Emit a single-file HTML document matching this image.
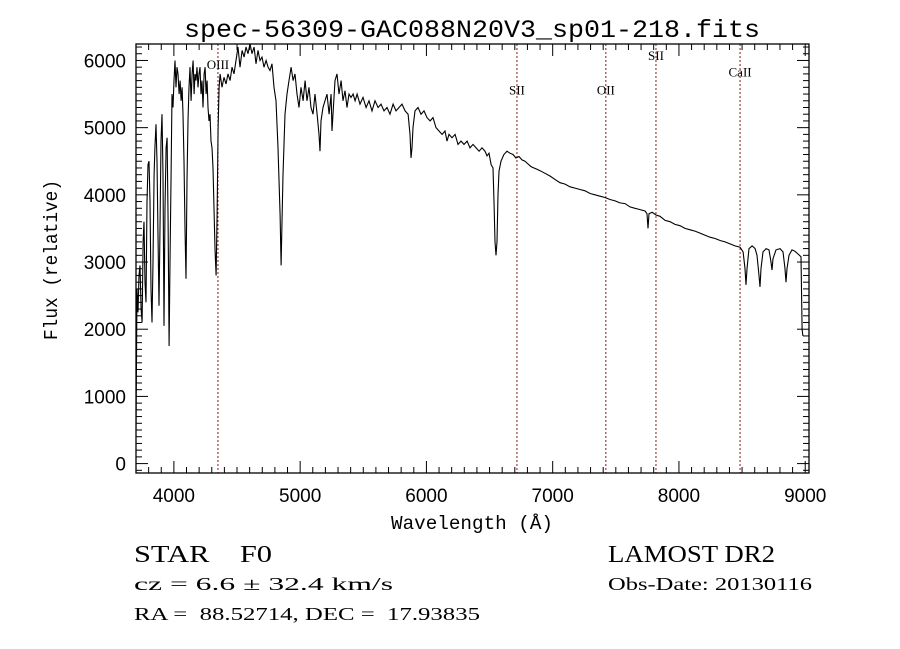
<!DOCTYPE html>
<html><head><meta charset="utf-8">
<style>
html,body{margin:0;padding:0;background:#fff;}
svg{display:block;}
svg text{white-space:pre;}
</style></head>
<body>
<svg id="chart" width="900" height="649" xmlns="http://www.w3.org/2000/svg" xml:space="preserve">
<rect width="900" height="649" fill="#fff"/>
<text x="472" y="37" text-anchor="middle" font-family="Liberation Mono, monospace" font-size="25" textLength="576" lengthAdjust="spacingAndGlyphs">spec-56309-GAC088N20V3_sp01-218.fits</text>
<g id="plot"></g>
<text x="472" y="529" text-anchor="middle" font-family="Liberation Mono, monospace" font-size="19" textLength="162" lengthAdjust="spacingAndGlyphs">Wavelength (Å)</text>
<text transform="translate(57,260) rotate(-90)" text-anchor="middle" font-family="Liberation Mono, monospace" font-size="19" textLength="160" lengthAdjust="spacingAndGlyphs">Flux (relative)</text>
<text x="134" y="562" font-family="Liberation Serif, serif" font-size="24" textLength="138" lengthAdjust="spacingAndGlyphs">STAR    F0</text>
<text x="608" y="562" font-family="Liberation Serif, serif" font-size="24" textLength="167" lengthAdjust="spacingAndGlyphs">LAMOST DR2</text>
<text x="134" y="590" font-family="Liberation Serif, serif" font-size="18" textLength="259" lengthAdjust="spacingAndGlyphs">cz = 6.6 ± 32.4 km/s</text>
<text x="608" y="590" font-family="Liberation Serif, serif" font-size="18" textLength="204" lengthAdjust="spacingAndGlyphs">Obs-Date: 20130116</text>
<text x="134" y="620" font-family="Liberation Serif, serif" font-size="18" textLength="346" lengthAdjust="spacingAndGlyphs">RA =  88.52714, DEC =  17.93835</text>
</svg>
<script>
const wavelengths = [3700,3708,3716,3724,3732,3740,3748,3756,3763,3771,3779,3787,3795,3803,3811,3819,3827,3835,3843,3850,3858,3866,3874,3882,3890,3898,3906,3914,3922,3930,3938,3946,3954,3962,3969,3977,3985,3993,4001,4009,4017,4025,4033,4041,4049,4057,4065,4072,4080,4088,4096,4104,4112,4120,4128,4136,4144,4152,4160,4167,4175,4183,4191,4199,4207,4215,4223,4231,4239,4247,4255,4263,4270,4278,4286,4294,4302,4310,4318,4326,4334,4342,4350,4358,4366,4381,4397,4413,4429,4445,4460,4476,4492,4508,4524,4540,4556,4571,4587,4603,4619,4635,4650,4666,4682,4698,4714,4730,4746,4761,4777,4793,4809,4825,4841,4849,4856,4864,4880,4896,4912,4928,4944,4959,4975,4991,5007,5023,5039,5054,5070,5086,5102,5118,5134,5149,5157,5165,5181,5197,5213,5229,5245,5252,5260,5276,5292,5308,5324,5339,5355,5371,5387,5403,5419,5435,5451,5474,5498,5522,5545,5569,5593,5617,5640,5664,5688,5712,5736,5759,5783,5807,5831,5855,5870,5878,5886,5894,5910,5933,5957,5981,6005,6029,6052,6076,6100,6124,6147,6163,6179,6203,6227,6250,6274,6298,6322,6345,6369,6393,6417,6440,6464,6480,6496,6512,6527,6535,6543,6551,6559,6567,6575,6591,6614,6638,6662,6686,6709,6733,6757,6781,6804,6828,6852,6876,6900,6939,6979,7018,7058,7098,7137,7177,7216,7256,7296,7335,7375,7414,7454,7494,7533,7573,7612,7652,7692,7731,7747,7755,7763,7787,7818,7850,7890,7929,7969,8008,8048,8088,8127,8167,8207,8246,8286,8326,8365,8405,8444,8484,8508,8523,8531,8539,8555,8579,8603,8618,8634,8642,8650,8666,8690,8713,8729,8737,8745,8769,8800,8824,8840,8848,8856,8872,8895,8919,8943,8967,8975,8982];
const fluxes = [500,2600,2250,2800,2950,2300,2100,3300,3600,2700,2400,3900,4450,4500,3900,2600,2100,3000,4300,4700,5050,4500,3400,2350,3500,4800,5200,4300,2050,3800,4700,4850,3600,1750,3000,4200,5500,5300,5700,6000,5600,5900,5800,5500,5700,5400,5600,5200,4500,3500,2750,4200,5100,5600,5900,5400,5800,6000,5500,5800,5700,5900,5600,5800,5900,5500,5700,5300,5800,5900,5500,5700,5300,5100,5200,4800,4700,4400,3800,3200,2800,3700,5000,5600,5800,5600,5750,5650,5800,5700,5900,5800,6000,6200,5900,6150,6050,6200,6100,6250,6100,6200,5950,6150,6000,6050,5900,6000,5900,5850,5950,5600,5400,4700,3700,2950,3600,4300,5200,5500,5700,5900,5700,5800,5500,5300,5600,5400,5700,5400,5600,5300,5200,5500,5200,4900,4650,5100,5300,5400,5500,5200,5500,4950,5200,5700,5800,5500,5700,5400,5550,5300,5500,5450,5500,5400,5500,5350,5450,5300,5400,5250,5400,5300,5350,5250,5300,5200,5350,5250,5300,5350,5250,5200,4900,4550,4700,5000,5250,5300,5200,5250,5150,5100,5150,5000,4950,4900,4950,4800,4900,4850,4900,4750,4800,4750,4800,4700,4750,4700,4650,4700,4650,4580,4620,4450,4400,3900,3300,3100,3300,4000,4350,4500,4600,4650,4620,4600,4550,4570,4520,4500,4460,4420,4400,4380,4360,4320,4280,4230,4180,4160,4120,4100,4080,4060,4020,4000,3980,3960,3930,3910,3880,3870,3820,3800,3780,3760,3720,3500,3720,3740,3700,3680,3620,3600,3560,3540,3500,3480,3460,3430,3400,3370,3350,3320,3300,3270,3240,3220,3150,2900,2660,2900,3200,3240,3200,3100,2800,2630,2900,3150,3200,3180,3000,2880,3050,3180,3200,3150,2900,2700,2900,3100,3180,3160,3120,3080,2000,1900];
const xTicks = [4000,5000,6000,7000,8000,9000];
const yTicks = [0,1000,2000,3000,4000,5000,6000];
const lineWaves = [4349,6717,7421,7818,8484];
const lineNames = ["OIII","SII","OII","SII","CaII"];
const lineLabelFlux = [5870,5490,5490,6010,5760];

const X0=136,X1=809,Y0=44,Y1=473;
const XMIN=3700,XMAX=9030,YMIN=-140,YMAX=6245;
const sx=v=>X0+(v-XMIN)/(XMAX-XMIN)*(X1-X0);
const sy=v=>Y1-(v-YMIN)/(YMAX-YMIN)*(Y1-Y0);
const NS='http://www.w3.org/2000/svg';
const g=document.getElementById('plot');
function mk(tag,attrs,parent){const e=document.createElementNS(NS,tag);for(const k in attrs)e.setAttribute(k,attrs[k]);(parent||g).appendChild(e);return e;}

lineWaves.forEach((w,i)=>{
  const l=mk('line',{x1:sx(w),x2:sx(w),y1:Y0,y2:Y1,stroke:'#8b1a1a','stroke-width':1,'stroke-dasharray':'2,2'});
  
  
  const t=mk('text',{x:sx(w),y:sy(lineLabelFlux[i]),'text-anchor':'middle','font-family':'Liberation Serif, serif','font-size':13});
  t.textContent=lineNames[i];
  
  
});

const clip=mk('clipPath',{id:'pc'});
mk('rect',{x:X0,y:Y0,width:X1-X0,height:Y1-Y0},clip);
const pts=wavelengths.map((w,i)=>sx(w).toFixed(1)+','+sy(fluxes[i]).toFixed(1)).join(' ');
const sp=mk('polyline',{points:pts,fill:'none',stroke:'#000','stroke-width':1.1,'clip-path':'url(#pc)'});



const fr=mk('rect',{x:X0,y:Y0,width:X1-X0,height:Y1-Y0,fill:'none',stroke:'#000','stroke-width':1.3});



for(let v=3800;v<=XMAX;v+=100){
  const major=v%1000===0, len=major?12:6, x=sx(v);
  mk('line',{x1:x,x2:x,y1:Y1,y2:Y1-len,stroke:'#000','stroke-width':1});
  mk('line',{x1:x,x2:x,y1:Y0,y2:Y0+len,stroke:'#000','stroke-width':1});
}
xTicks.forEach(v=>{
  const t=mk('text',{x:sx(v),y:502,'text-anchor':'middle','font-family':'Liberation Sans, sans-serif','font-size':19});
  t.textContent=v;
  
  
});
for(let v=-100;v<=YMAX;v+=100){
  const major=v%1000===0, len=major?12:6, y=sy(v);
  mk('line',{x1:X0,x2:X0+len,y1:y,y2:y,stroke:'#000','stroke-width':1});
  mk('line',{x1:X1,x2:X1-len,y1:y,y2:y,stroke:'#000','stroke-width':1});
}
yTicks.forEach(v=>{
  const t=mk('text',{x:126,y:sy(v)+7,'text-anchor':'end','font-family':'Liberation Sans, sans-serif','font-size':19});
  t.textContent=v;
  
  
});
</script>
</body></html>
